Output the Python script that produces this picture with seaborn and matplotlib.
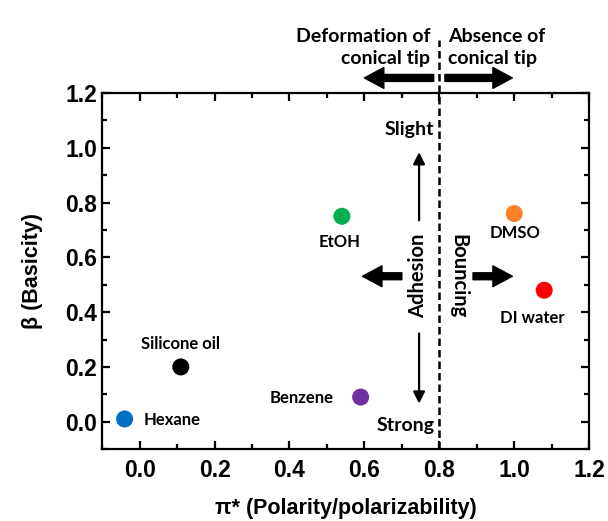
import pandas as pd
import seaborn as sns
import matplotlib.pyplot as plt
from matplotlib.ticker import MultipleLocator

# solvent parameters (Kamlet-Taft)
solvents = ['Hexane', 'Silicone oil', 'Benzene', 'EtOH', 'DMSO', 'DI water']
pi_star = [-0.04, 0.11, 0.59, 0.54, 1.00, 1.08]
beta = [0.01, 0.20, 0.09, 0.75, 0.76, 0.48]
colors = ['#0070C0', '#000000', '#7030A0', '#00B050', '#FF7F27', '#FF0000']

df = pd.DataFrame({'solvent': solvents, 'pi': pi_star, 'beta': beta})

sns.set_style("ticks")
plt.rcParams['font.family'] = ['Liberation Sans', 'DejaVu Sans']
plt.rcParams['font.weight'] = 'bold'
plt.rcParams['axes.linewidth'] = 1.6
plt.rcParams['axes.edgecolor'] = 'black'
plt.rcParams['axes.labelcolor'] = 'black'
plt.rcParams['xtick.color'] = 'black'
plt.rcParams['ytick.color'] = 'black'
plt.rcParams['text.color'] = 'black'

fig, ax = plt.subplots(figsize=(6.08, 5.21), dpi=100)
fig.subplots_adjust(left=0.168, right=0.969, top=0.8215, bottom=0.138)

sns.scatterplot(data=df, x='pi', y='beta', hue='solvent', palette=colors,
                s=150, edgecolor='none', legend=False, ax=ax, zorder=3)

ax.set_xlim(-0.1, 1.2)
ax.set_ylim(-0.1, 1.2)
ax.xaxis.set_major_locator(MultipleLocator(0.2))
ax.xaxis.set_minor_locator(MultipleLocator(0.1))
ax.yaxis.set_major_locator(MultipleLocator(0.2))
ax.yaxis.set_minor_locator(MultipleLocator(0.1))
ax.tick_params(which='both', direction='in', top=True, right=True, width=1.6)
ax.tick_params(which='major', length=6, labelsize=16.5)
ax.tick_params(axis='x', which='major', pad=7)
ax.tick_params(which='minor', length=3.5)
for lab in ax.get_xticklabels() + ax.get_yticklabels():
    lab.set_fontweight('bold')

ax.set_xlabel('π* (Polarity/polarizability)', fontsize=15.5, fontweight='bold', labelpad=12)
ax.set_ylabel('β (Basicity)', fontsize=15.5, fontweight='bold', labelpad=16)

# dashed divider extending above the axes
ax.plot([0.8, 0.8], [-0.1, 1.394], ls=(0, (3, 1.6)), color='black', lw=1.8,
        clip_on=False, zorder=4)

lbl = dict(family=['Lato', 'DejaVu Sans'], fontweight='bold', color='black')

# point labels
ax.text(0.012, 0.008, 'Hexane', fontsize=12, ha='left', va='center', **lbl)
ax.text(0.11, 0.285, 'Silicone oil', fontsize=12, ha='center', va='center', **lbl)
ax.text(0.518, 0.088, 'Benzene', fontsize=12, ha='right', va='center', **lbl)
ax.text(0.535, 0.655, 'EtOH', fontsize=12, ha='center', va='center', **lbl)
ax.text(1.003, 0.688, 'DMSO', fontsize=12, ha='center', va='center', **lbl)
ax.text(1.048, 0.377, 'DI water', fontsize=12, ha='center', va='center', **lbl)

# region labels above the plot
ax.text(0.776, 1.365, 'Deformation of\nconical tip', fontsize=14, ha='right',
        va='center', linespacing=1.35, clip_on=False, **lbl)
ax.text(0.824, 1.365, 'Absence of\nconical tip', fontsize=14, ha='left',
        va='center', linespacing=1.35, clip_on=False, **lbl)

big = dict(arrowstyle='simple,head_length=1.4,head_width=1.5,tail_width=0.5',
           mutation_scale=10, color='black', shrinkA=0, shrinkB=0)
ax.annotate('', xy=(0.60, 1.255), xytext=(0.785, 1.255), arrowprops=big,
            annotation_clip=False)
ax.annotate('', xy=(0.995, 1.255), xytext=(0.815, 1.255), arrowprops=big,
            annotation_clip=False)
ax.annotate('', xy=(0.595, 0.531), xytext=(0.70, 0.531), arrowprops=big)
ax.annotate('', xy=(0.995, 0.531), xytext=(0.89, 0.531), arrowprops=big)

thin = dict(arrowstyle='-|>,head_length=0.5,head_width=0.25', lw=1.6,
            mutation_scale=14, color='black', shrinkA=0, shrinkB=0)
ax.annotate('', xy=(0.746, 0.984), xytext=(0.746, 0.735), arrowprops=thin)
ax.annotate('', xy=(0.746, 0.066), xytext=(0.746, 0.322), arrowprops=thin)

ax.text(0.786, 1.068, 'Slight', fontsize=14, ha='right', va='center', **lbl)
ax.text(0.788, -0.015, 'Strong', fontsize=14, ha='right', va='center', **lbl)
ax.text(0.744, 0.531, 'Adhesion', fontsize=14.5, rotation=90, ha='center',
        va='center', **lbl)
ax.text(0.851, 0.531, 'Bouncing', fontsize=14.5, rotation=270, ha='center',
        va='center', **lbl)

fig.savefig('out.png', dpi=100)
